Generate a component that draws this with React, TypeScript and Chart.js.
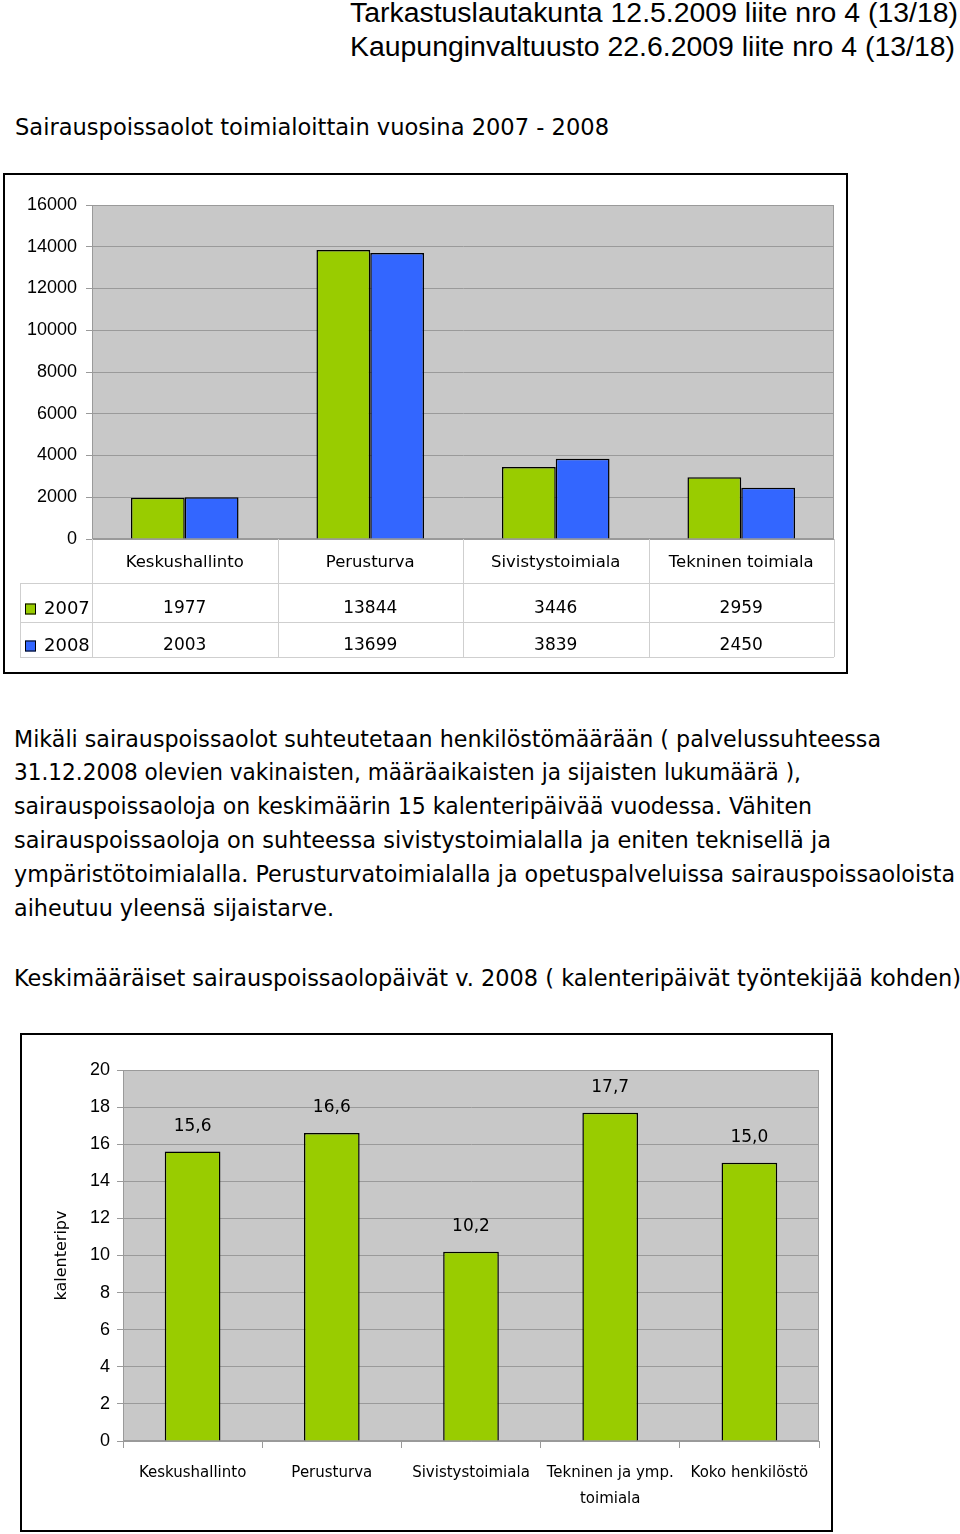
import { useEffect, useLayoutEffect, useRef } from "react";
import { Chart, registerables } from "chart.js";
import type { Plugin } from "chart.js";

Chart.register(...registerables);

// Sick-leave days per unit, 2007 and 2008
const units = ["Keskushallinto", "Perusturva", "Sivistystoimiala", "Tekninen toimiala"];
const years = ["2007", "2008"];
const days2007 = [1977, 13844, 3446, 2959];
const days2008 = [2003, 13699, 3839, 2450];

// Average calendar days per employee 2008
const avgUnits = ["Keskushallinto", "Perusturva", "Sivistystoimiala", ["Tekninen ja ymp.", "toimiala"], "Koko henkilöstö"];
const avgDays = [15.6, 16.6, 10.2, 17.7, 15.0];

const GREEN = "#99cc00";
const BLUE = "#3366ff";
const PLOT_BG = "#c8c8c8";
const GRID = "#9a9a9a";
const SANS = "'Liberation Sans', Arial, sans-serif";
const COMIC = "'Comic Sans MS', 'DejaVu Sans', sans-serif";

const paragraph = [
  "Mikäli sairauspoissaolot suhteutetaan henkilöstömäärään ( palvelussuhteessa",
  "31.12.2008 olevien vakinaisten, määräaikaisten ja sijaisten lukumäärä ),",
  "sairauspoissaoloja on keskimäärin 15 kalenteripäivää vuodessa. Vähiten",
  "sairauspoissaoloja on suhteessa sivistystoimialalla ja eniten teknisellä ja",
  "ympäristötoimialalla. Perusturvatoimialalla ja opetuspalveluissa sairauspoissaoloista",
  "aiheutuu yleensä sijaistarve.",
];
const paragraphEnds = [881, 801, 812, 831, 955, 334];

// grey plot area with a thin frame, drawn under the grid
const plotBackground: Plugin<"bar"> = {
  id: "plotBackground",
  beforeDraw(chart) {
    const { ctx, chartArea: a } = chart;
    ctx.save();
    ctx.fillStyle = PLOT_BG;
    ctx.fillRect(a.left, a.top, a.width, a.height);
    ctx.strokeStyle = GRID;
    ctx.lineWidth = 1;
    ctx.strokeRect(a.left + 0.5, a.top + 0.5, a.width - 1, a.height - 1);
    ctx.restore();
  },
};

// data table under the first chart (legend keys + values per category)
const dataTable: Plugin<"bar"> = {
  id: "dataTable",
  afterDraw(chart) {
    const { ctx, chartArea: a } = chart;
    const x = chart.scales.x;
    const step = x.getPixelForValue(1) - x.getPixelForValue(0);
    const rows = [a.bottom, a.bottom + 44, a.bottom + 83, a.bottom + 118];
    const legendLeft = 15;
    ctx.save();
    ctx.strokeStyle = "#cfcfcf";
    ctx.lineWidth = 1;
    ctx.beginPath();
    for (let r = 1; r < rows.length; r++) {
      ctx.moveTo(legendLeft, rows[r] + 0.5);
      ctx.lineTo(a.right, rows[r] + 0.5);
    }
    for (let i = 0; i <= units.length; i++) {
      const px = Math.round(x.getPixelForValue(0) - step / 2 + i * step) + 0.5;
      ctx.moveTo(px, rows[0]);
      ctx.lineTo(px, rows[3]);
    }
    ctx.moveTo(legendLeft + 0.5, rows[1]);
    ctx.lineTo(legendLeft + 0.5, rows[3]);
    ctx.stroke();

    ctx.textBaseline = "middle";
    chart.data.datasets.forEach((ds, d) => {
      const cy = (rows[d + 1] + rows[d + 2]) / 2 + 4;
      ctx.font = `17px ${COMIC}`;
      ctx.fillStyle = "#000";
      ctx.textAlign = "center";
      ds.data.forEach((v, i) => ctx.fillText(String(v), x.getPixelForValue(i), cy + 2));
      ctx.fillStyle = ds.backgroundColor as string;
      ctx.fillRect(20, cy - 3, 11, 11);
      ctx.strokeStyle = "#000";
      ctx.strokeRect(20.5, cy - 2.5, 10, 10);
      ctx.fillStyle = "#000";
      ctx.textAlign = "left";
      ctx.font = `18px ${COMIC}`;
      ctx.fillText(ds.label ?? "", 39, cy + 3);
    });
    ctx.restore();
  },
};

// value labels above the bars of the second chart
const valueLabels: Plugin<"bar"> = {
  id: "valueLabels",
  afterDatasetsDraw(chart) {
    const { ctx } = chart;
    const meta = chart.getDatasetMeta(0);
    ctx.save();
    ctx.font = `17px ${COMIC}`;
    ctx.fillStyle = "#000";
    ctx.textAlign = "center";
    ctx.textBaseline = "middle";
    meta.data.forEach((bar, i) => {
      const v = chart.data.datasets[0].data[i] as number;
      ctx.fillText(v.toFixed(1).replace(".", ","), bar.x, bar.y - 25);
    });
    ctx.restore();
  },
};

const YearChart = () => {
  const chartRef = useRef<HTMLCanvasElement>(null);
  useEffect(() => {
    const chart = new Chart(chartRef.current as HTMLCanvasElement, {
      type: "bar",
      data: {
        labels: units,
        datasets: [
          { label: years[0], data: days2007, backgroundColor: GREEN, borderColor: "#000", borderWidth: 1.5 },
          { label: years[1], data: days2008, backgroundColor: BLUE, borderColor: "#000", borderWidth: 1.5 },
        ],
      },
      options: {
        responsive: false,
        animation: false,
        datasets: { bar: { categoryPercentage: 0.58, barPercentage: 1 } },
        layout: { padding: { top: 30, right: 12, left: 0, bottom: 0 } },
        plugins: { legend: { display: false }, tooltip: { enabled: false } },
        scales: {
          x: {
            grid: { display: false },
            border: { display: false },
            ticks: { color: "#000", font: { family: COMIC, size: 16.5 }, padding: 6 },
            afterFit: (s) => {
              s.height = 133;
            },
          },
          y: {
            min: 0,
            max: 16000,
            ticks: {
              stepSize: 2000,
              color: "#000",
              font: { family: SANS, size: 18 },
              padding: 9,
              callback: (v) => String(v),
            },
            grid: { color: GRID, tickLength: 6 },
            border: { color: GRID },
            afterFit: (s) => {
              s.width = 87;
            },
          },
        },
      },
      plugins: [plotBackground, dataTable],
    });
    return () => chart.destroy();
  }, []);

  return <canvas ref={chartRef} width={841} height={497} />;
};

const AverageChart = () => {
  const chartRef = useRef<HTMLCanvasElement>(null);
  useEffect(() => {
    const chart = new Chart(chartRef.current as HTMLCanvasElement, {
      type: "bar",
      data: {
        labels: avgUnits,
        datasets: [
          { label: "2008", data: avgDays, backgroundColor: GREEN, borderColor: "#000", borderWidth: 1.5 },
        ],
      },
      options: {
        responsive: false,
        animation: false,
        datasets: { bar: { categoryPercentage: 0.4, barPercentage: 1 } },
        layout: { padding: { top: 35, right: 12, left: 0, bottom: 0 } },
        plugins: { legend: { display: false }, tooltip: { enabled: false } },
        scales: {
          x: {
            offset: true,
            grid: { display: true, offset: true, drawOnChartArea: false, tickLength: 7, color: GRID },
            border: { color: GRID },
            ticks: { color: "#000", font: { family: COMIC, size: 15, lineHeight: 1.75 }, padding: 12 },
            afterFit: (s) => {
              s.height = 89;
            },
          },
          y: {
            min: 0,
            max: 20,
            ticks: {
              stepSize: 2,
              color: "#000",
              font: { family: SANS, size: 18 },
              padding: 7,
              callback: (v) => String(v),
            },
            grid: { color: GRID, tickLength: 6 },
            border: { color: GRID },
            title: {
              display: true,
              text: "kalenteripv",
              color: "#000",
              font: { family: COMIC, size: 16 },
              padding: { top: 30, bottom: 0 },
            },
            afterFit: (s) => {
              s.width = 101;
            },
          },
        },
      },
      plugins: [plotBackground, valueLabels],
    });
    return () => chart.destroy();
  }, []);

  return <canvas ref={chartRef} width={809} height={495} />;
};

type FitTextProps = {
  text: string;
  left: number;
  right: number;
  baseline: number;
  size: number;
  family: string;
};

// one line of text stretched to the width it has in the scan
const FitText = ({ text, left, right, baseline, size, family }: FitTextProps) => {
  const ref = useRef<HTMLSpanElement>(null);
  useLayoutEffect(() => {
    const el = ref.current;
    if (!el) return;
    el.style.transform = "none";
    const w = el.getBoundingClientRect().width;
    if (w > 0) el.style.transform = `scaleX(${(right - left) / w})`;
  }, [text, left, right]);
  return (
    <span
      ref={ref}
      style={{
        position: "absolute",
        left,
        top: baseline - size * 0.846,
        fontSize: size,
        lineHeight: `${size}px`,
        fontFamily: family,
        whiteSpace: "nowrap",
        transformOrigin: "0 0",
        color: "#000",
      }}
    >
      {text}
    </span>
  );
};

const App = () => {
  return (
    <div
      style={{
        position: "absolute",
        left: 0,
        top: 0,
        width: 960,
        height: 1534,
        overflow: "hidden",
        background: "#fff",
      }}
    >
      <FitText text="Tarkastuslautakunta 12.5.2009 liite nro 4 (13/18)" left={350} right={958} baseline={23} size={27} family={SANS} />
      <FitText text="Kaupunginvaltuusto 22.6.2009 liite nro 4 (13/18)" left={350} right={955} baseline={57} size={27} family={SANS} />
      <FitText text="Sairauspoissaolot toimialoittain vuosina 2007 - 2008" left={15} right={609} baseline={135} size={23} family={COMIC} />

      <div style={{ position: "absolute", left: 3, top: 173, width: 845, height: 501, border: "2px solid #000", boxSizing: "border-box" }}>
        <YearChart />
      </div>

      {paragraph.map((line, i) => (
        <FitText key={i} text={line} left={14} right={paragraphEnds[i]} baseline={747 + i * 33.8} size={23} family={COMIC} />
      ))}
      <FitText
        text="Keskimääräiset sairauspoissaolopäivät v. 2008 ( kalenteripäivät työntekijää kohden)"
        left={14}
        right={961}
        baseline={986}
        size={23}
        family={COMIC}
      />

      <div style={{ position: "absolute", left: 20, top: 1033, width: 813, height: 499, border: "2px solid #000", boxSizing: "border-box" }}>
        <AverageChart />
      </div>
    </div>
  );
};

export default App;
